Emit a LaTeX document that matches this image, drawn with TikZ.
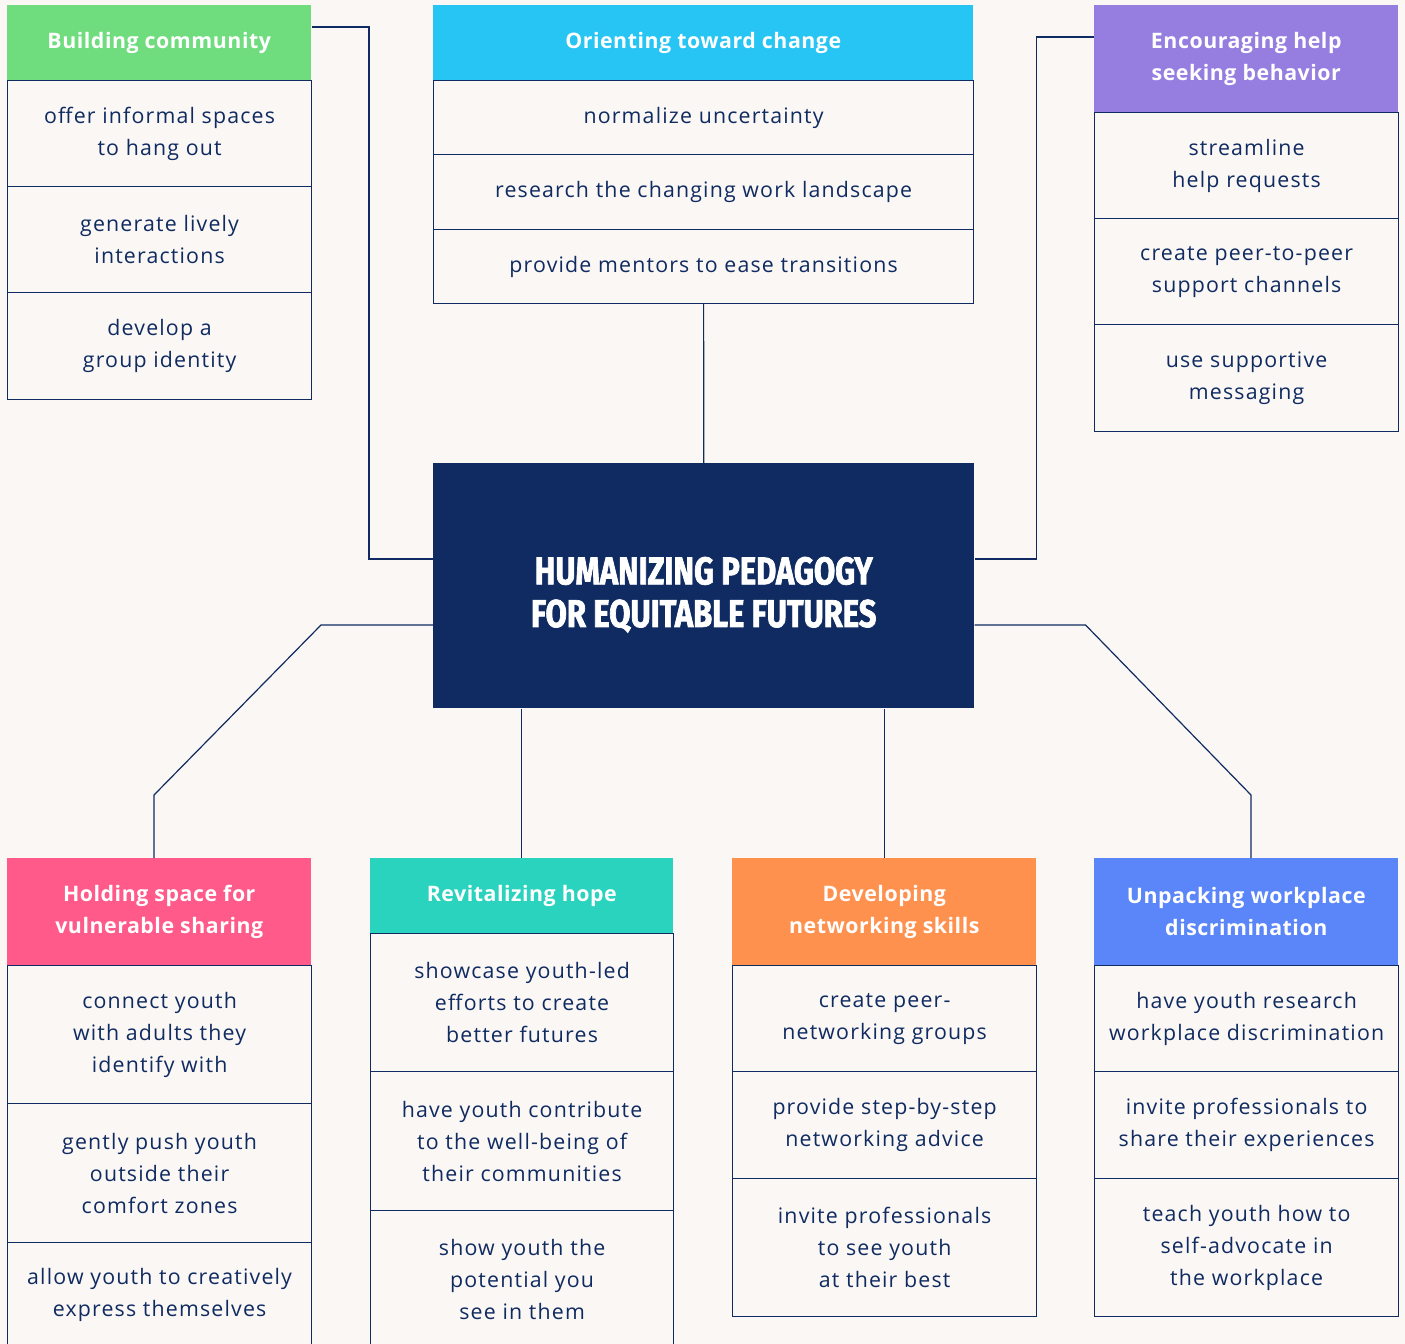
\documentclass[tikz,border=0pt]{standalone}
\usepackage{fontspec}
\usetikzlibrary{calc}
\setmainfont{Open Sans}
\newfontfamily\bodyfont[LetterSpace=5.5]{Open Sans}
\newfontfamily\headfont[LetterSpace=2.5]{Open Sans}
\newfontfamily\titlefont[FakeStretch=0.8,FakeBold=1.8]{Fira Sans}

\definecolor{bg}{RGB}{250,247,244}
\definecolor{navy}{RGB}{16,43,97}
\definecolor{cgreen}{RGB}{111,220,125}
\definecolor{ccyan}{RGB}{39,197,243}
\definecolor{cpurple}{RGB}{150,126,224}
\definecolor{cpink}{RGB}{255,90,138}
\definecolor{cteal}{RGB}{42,211,190}
\definecolor{corange}{RGB}{255,145,79}
\definecolor{cblue}{RGB}{91,134,250}

\tikzset{
  cellbox/.style={draw=navy, line width=0.9pt, anchor=north west, inner sep=0pt,
    align=center, text=navy, font=\bodyfont\fontsize{16}{24}\selectfont},
  hdrbox/.style={anchor=north west, inner sep=0pt, align=center, text=white,
    font=\headfont\bfseries\fontsize{16}{24}\selectfont},
  conn/.style={draw=navy, line width=0.9pt},
}

% #1 extra options, #2 name, #3 x, #4 y, #5 width, #6 height, #7 text
\newcommand\cellnode[7][]{%
  \node[cellbox,#1,minimum width=#5*0.75pt,minimum height=#6*0.75pt] (#2) at (#3,#4) {#7};}
\newcommand\hdrnode[8][]{%
  \node[hdrbox,fill=#8,#1,minimum width=#5*0.75pt,minimum height=#6*0.75pt] (#2) at (#3,#4) {#7};}

\begin{document}
\begin{tikzpicture}[x=0.75pt,y=-0.75pt]
\useasboundingbox (0,0) rectangle (1405,1344);
\fill[bg] (0,0) rectangle (1405,1344);
\clip (0,0) rectangle (1405,1344);

% top-left group
\hdrnode{bchd}{7}{5}{304}{75}{Building community}{cgreen}
\cellnode{bc1}{7}{80}{304}{106}{offer informal spaces\\to hang out}
\cellnode{bc2}{7}{186}{304}{106}{generate lively\\interactions}
\cellnode{bc3}{7}{292}{304}{107}{develop a\\group identity}

% top-centre group
\hdrnode{ochd}{433}{5}{540}{75}{Orienting toward change}{ccyan}
\cellnode{oc1}{433}{80}{540}{74}{normalize uncertainty}
\cellnode{oc2}{433}{154}{540}{75}{research the changing work landscape}
\cellnode{oc3}{433}{229}{540}{74}{provide mentors to ease transitions}

% top-right group
\hdrnode{ehhd}{1094}{5}{304}{107}{Encouraging help\\seeking behavior}{cpurple}
\cellnode{eh1}{1094}{112}{304}{106}{streamline\\help requests}
\cellnode{eh2}{1094}{218}{304}{106}{create peer-to-peer\\support channels}
\cellnode{eh3}{1094}{324}{304}{107}{use supportive\\messaging}

% central node and its title
\node[fill=navy, anchor=north west, inner sep=0pt, minimum width=541*0.75pt,
  minimum height=245*0.75pt] (ctr) at (433,463) {};
\node[text=white, align=center, inner sep=0pt,
  font=\titlefont\bfseries\fontsize{29}{32}\selectfont] (ctrtitle)
  at ($(ctr.center)+(0,9)$) {HUMANIZING PEDAGOGY\\FOR EQUITABLE FUTURES};

% bottom groups
\hdrnode{hshd}{7}{858}{304}{107}{Holding space for\\vulnerable sharing}{cpink}
\cellnode{hs1}{7}{965}{304}{138}{connect youth\\with adults they\\identify with}
\cellnode{hs2}{7}{1103}{304}{139}{gently push youth\\outside their\\comfort zones}
\cellnode{hs3}{7}{1242}{304}{104}{allow youth to creatively\\express themselves}

\hdrnode{rhhd}{370}{858}{303}{75}{Revitalizing hope}{cteal}
\cellnode{rh1}{370}{933}{303}{138}{showcase youth-led\\efforts to create\\better futures}
\cellnode{rh2}{370}{1071}{303}{139}{have youth contribute\\to the well-being of\\their communities}
\cellnode{rh3}{370}{1210}{303}{138}{show youth the\\potential you\\see in them}

\hdrnode{dnhd}{732}{858}{304}{107}{Developing\\networking skills}{corange}
\cellnode{dn1}{732}{965}{304}{106}{create peer-\\networking groups}
\cellnode{dn2}{732}{1071}{304}{107}{provide step-by-step\\networking advice}
\cellnode{dn3}{732}{1178}{304}{138}{invite professionals\\to see youth\\at their best}

\hdrnode{uwhd}{1094}{858}{304}{107}{Unpacking workplace\\discrimination}{cblue}
\cellnode{uw1}{1094}{965}{304}{106}{have youth research\\workplace discrimination}
\cellnode{uw2}{1094}{1071}{304}{107}{invite professionals to\\share their experiences}
\cellnode{uw3}{1094}{1178}{304}{138}{teach youth how to\\self-advocate in\\the workplace}

% connectors
\draw[conn] ($(bchd.north east)+(0,22)$) -| ($(ctr.north west)+(-64,96)$) -- ($(ctr.north west)+(0,96)$);
\draw[conn] ($(ehhd.north west)+(0,32)$) -| ($(ctr.north east)+(62,96)$) -- ($(ctr.north east)+(0,96)$);
\draw[conn] (oc3.south) -- (ctr.north);
\draw[conn] ($(ctr.north west)+(0,162)$) -- ($(ctr.north west)+(-112,162)$)
  -- ($(hshd.north west)+(147,-63)$) -- ($(hshd.north west)+(147,0)$);
\draw[conn] ($(ctr.north east)+(0,162)$) -- ($(ctr.north east)+(111,162)$)
  -- ($(uwhd.north west)+(157,-63)$) -- ($(uwhd.north west)+(157,0)$);
\draw[conn] (rhhd.north) -- (rhhd.north |- ctr.south);
\draw[conn] (dnhd.north) -- (dnhd.north |- ctr.south);
\end{tikzpicture}
\end{document}
